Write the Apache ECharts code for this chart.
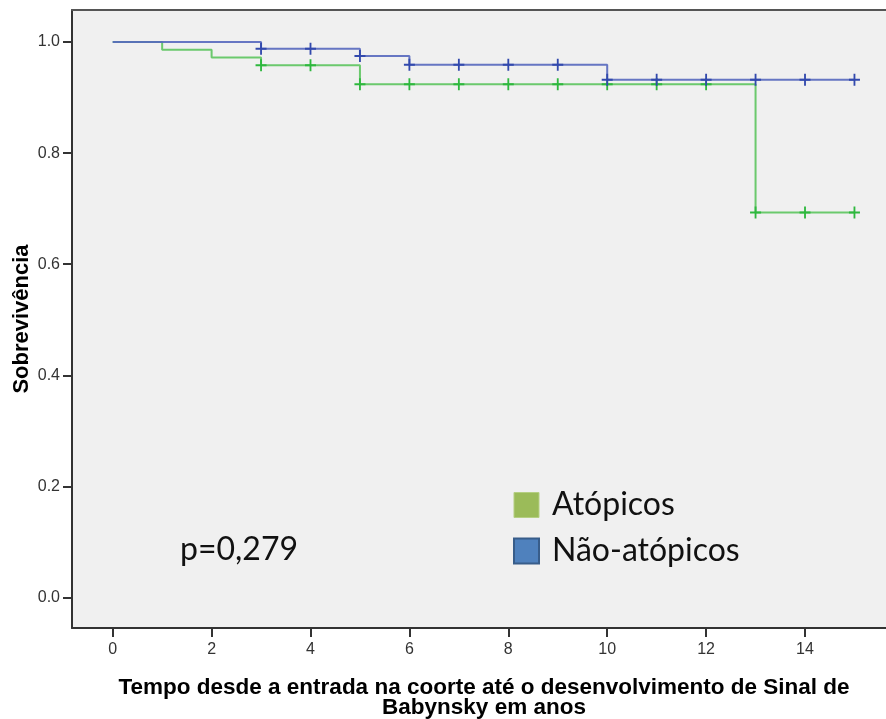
<!DOCTYPE html>
<html>
<head>
<meta charset="utf-8">
<script src="https://cdn.jsdelivr.net/npm/echarts@6/dist/echarts.min.js"></script>
<style>
html,body{margin:0;padding:0;background:#fff;}
#chart{width:886px;height:719px;}
</style>
</head>
<body>
<div id="chart"></div>
<script>
// Kaplan-Meier step curves (time in years, survival)
const atopTimes = [0, 1, 2, 3, 5, 13, 15];
const atopSurv  = [1.0, 0.986, 0.972, 0.958, 0.924, 0.693, 0.693];
const naoTimes  = [0, 3, 5, 6, 10, 15];
const naoSurv   = [1.0, 0.988, 0.975, 0.959, 0.932, 0.932];
// Censored observations
const atopCensTimes = [3, 4, 5, 6, 7, 8, 9, 10, 11, 12, 13, 14, 15];
const atopCensSurv  = [0.958, 0.958, 0.924, 0.924, 0.924, 0.924, 0.924, 0.924, 0.924, 0.924, 0.693, 0.693, 0.693];
const naoCensTimes  = [3, 4, 5, 6, 7, 8, 9, 10, 11, 12, 13, 14, 15];
const naoCensSurv   = [0.988, 0.988, 0.975, 0.959, 0.959, 0.959, 0.959, 0.932, 0.932, 0.932, 0.932, 0.932, 0.932];
// Tick labels
const xTicks = [0, 2, 4, 6, 8, 10, 12, 14];
const yTicks = [0.0, 0.2, 0.4, 0.6, 0.8, 1.0];
const seriesNames = ['Atópicos', 'Não-atópicos'];
const pText = 'p=0,279';
const xTitle = 'Tempo desde a entrada na coorte até o desenvolvimento de Sinal de\nBabynsky em anos';
const yTitle = 'Sobrevivência';

const zip = (a, b) => a.map((v, i) => [v, b[i]]);
const plus = 'path://M5,0H7V5H12V7H7V12H5V7H0V5H5Z';

const chart = echarts.init(document.getElementById('chart'), null, {renderer: 'canvas'});
const xMin = -0.823, xMax = 15.84, yMin = -0.0549, yMax = 1.0576;
const option = {
  animation: false,
  backgroundColor: '#ffffff',
  grid: {left: 72, top: 10, bottom: 91, right: -10, outerBoundsMode: 'none', containLabel: false,
         show: true, backgroundColor: '#f0f0f0', borderWidth: 0},
  xAxis: [{
    type: 'value', min: xMin, max: xMax,
    axisLine: {show: true, onZero: false, lineStyle: {color: '#333', width: 2}},
    axisTick: {show: true, length: 9, customValues: xTicks, lineStyle: {color: '#333', width: 2}},
    axisLabel: {customValues: xTicks, color: '#333', fontFamily: 'Liberation Sans, Arial', fontSize: 16, margin: 14},
    splitLine: {show: false},
    name: xTitle, nameLocation: 'middle', nameGap: 50, nameMoveOverlap: false,
    nameTextStyle: {fontFamily: 'Liberation Sans, Arial', fontWeight: 'bold', fontSize: 22.5, color: '#000', lineHeight: 20}
  }, {
    type: 'value', position: 'top', min: xMin, max: xMax,
    axisLine: {show: true, onZero: false, lineStyle: {color: '#555', width: 2}},
    axisTick: {show: false}, axisLabel: {show: false}, splitLine: {show: false}
  }],
  yAxis: {
    type: 'value', min: yMin, max: yMax,
    axisLine: {show: true, onZero: false, lineStyle: {color: '#333', width: 2}},
    axisTick: {show: true, length: 9, customValues: yTicks, lineStyle: {color: '#333', width: 2}},
    axisLabel: {customValues: yTicks, color: '#333', fontFamily: 'Liberation Sans, Arial', fontSize: 16, margin: 12,
      formatter: v => v.toFixed(1)},
    splitLine: {show: false},
    name: yTitle, nameLocation: 'middle', nameRotate: 90, nameGap: 39, nameMoveOverlap: false,
    nameTextStyle: {fontFamily: 'Liberation Sans, Arial', fontWeight: 'bold', fontSize: 22, color: '#000'}
  },
  legend: {
    orient: 'vertical', left: 513, top: 489, padding: 0, itemWidth: 25, itemHeight: 25, itemGap: 14,
    selectedMode: false,
    textStyle: {fontFamily: 'Lato, Noto Sans', fontSize: 32, color: '#111', lineHeight: 25, padding: [0, 0, 0, 8]},
    data: [
      {name: seriesNames[0], icon: 'rect', itemStyle: {color: '#9bbb59', borderColor: '#b5cf82', borderWidth: 1}},
      {name: seriesNames[1], icon: 'rect', itemStyle: {color: '#4f81bd', borderColor: '#385d8a', borderWidth: 2}}
    ]
  },
  graphic: [{
    type: 'text', left: 180, top: 534,
    style: {text: pText, fontFamily: 'Lato, Noto Sans', fontSize: 32, fill: '#111'}
  }],
  series: [
    {name: seriesNames[0], type: 'line', step: 'end', showSymbol: false, symbol: 'none',
     data: zip(atopTimes, atopSurv), lineStyle: {color: '#5cc45e', width: 2, opacity: 0.9}, itemStyle: {color: '#9bbb59'}, z: 2},
    {name: seriesNames[1], type: 'line', step: 'end', showSymbol: false, symbol: 'none',
     data: zip(naoTimes, naoSurv), lineStyle: {color: '#5668be', width: 2, opacity: 0.9}, itemStyle: {color: '#4f81bd'}, z: 3},
    {name: 'censA', type: 'scatter', symbol: plus, symbolSize: [11, 12],
     data: zip(atopCensTimes, atopCensSurv), itemStyle: {color: '#2eb83e', opacity: 1}, z: 4},
    {name: 'censN', type: 'scatter', symbol: plus, symbolSize: [11, 12],
     data: zip(naoCensTimes, naoCensSurv), itemStyle: {color: '#3249ad', opacity: 1}, z: 5}
  ]
};
chart.setOption(option);
</script>
</body>
</html>
